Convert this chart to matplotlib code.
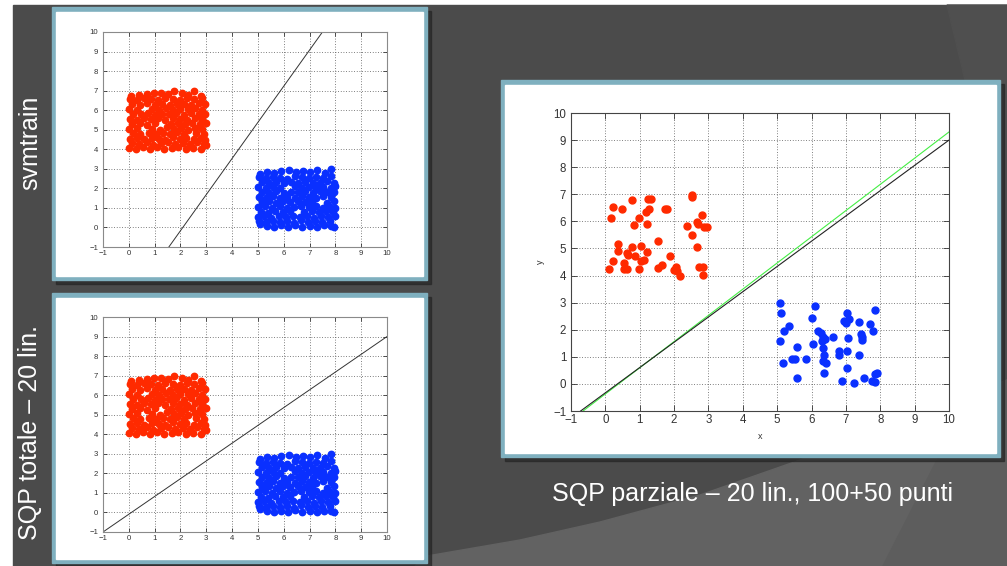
import matplotlib
matplotlib.use("Agg")
import matplotlib.pyplot as plt
from matplotlib.patches import Rectangle, Polygon

plt.rcParams['font.family'] = ['Liberation Sans', 'DejaVu Sans']

# ---------------- data ----------------
ticks = [-1, 0, 1, 2, 3, 4, 5, 6, 7, 8, 9, 10]

# dense clouds (left two plots) – hand-read approximate positions
dense_red_x = [0.02,0.28,0.55,0.83,1.1,1.38,1.66,1.92,2.2,2.5,2.78,2.98,
               0.12,0.4,0.7,0.95,1.25,1.52,1.8,2.08,2.36,2.64,2.9,
               0.03,0.3,0.58,0.9,1.15,1.42,1.7,1.98,2.22,2.52,2.8,2.97,
               0.15,0.45,0.78,1.05,1.32,1.6,1.88,2.15,2.62,2.9,
               0.02,0.3,0.9,1.2,1.48,1.75,2.02,2.3,2.56,2.84,
               0.14,0.42,0.72,1.02,1.62,1.9,2.18,2.45,2.74,2.98,
               0.03,0.3,0.58,0.86,1.14,1.42,1.7,1.98,2.26,2.55,2.85,
               0.16,0.46,0.75,1.0,1.28,1.56,1.84,2.12,2.4,2.7,2.95,
               0.02,0.3,0.88,1.16,1.45,1.72,2.0,2.28,2.56,2.84,
               0.14,0.44,0.72,1.02,1.3,1.58,1.86,2.14,2.42,2.7,2.96,
               0.04,0.3,0.58,0.86,1.14,1.42,1.7,1.98,2.26,2.54,2.82,
               0.1,0.4,0.7,0.98,1.26,1.52,1.76,2.05,2.3,2.52,2.78]
dense_red_y = [4.08,4.0,4.12,4.03,4.1,4.0,4.06,4.12,4.02,4.09,4.0,4.2,
               4.33,4.27,4.35,4.24,4.31,4.38,4.26,4.34,4.29,4.36,4.28,
               4.52,4.6,4.5,4.58,4.55,4.49,4.61,4.53,4.57,4.5,4.6,4.45,
               4.82,4.76,4.85,4.78,4.84,4.77,4.86,4.79,4.83,4.8,
               5.02,5.1,5.05,5.0,5.12,5.04,5.08,5.01,5.1,5.06,
               5.28,5.34,5.25,5.32,5.3,5.36,5.27,5.33,5.29,5.35,
               5.56,5.5,5.6,5.53,5.58,5.51,5.59,5.55,5.5,5.6,5.54,
               5.82,5.78,5.85,5.76,5.83,5.8,5.86,5.77,5.84,5.79,5.82,
               6.06,6.0,6.08,6.03,6.1,6.02,6.07,6.04,6.09,6.01,
               6.32,6.27,6.35,6.28,6.33,6.26,6.34,6.3,6.27,6.36,6.3,
               6.58,6.52,6.6,6.55,6.5,6.62,6.56,6.53,6.6,6.55,6.62,
               6.72,6.8,6.85,6.9,6.88,6.83,6.98,6.86,6.8,6.97,6.75]
dense_blue_x = [5.1,5.35,5.62,5.9,6.18,6.45,6.72,7.0,7.28,7.55,7.82,7.95,
                5.05,5.3,5.58,5.85,6.12,6.4,6.68,6.95,7.22,7.5,7.78,
                5.02,5.25,5.52,5.8,6.08,6.36,6.62,6.9,7.18,7.46,7.72,7.97,
                5.12,5.4,5.68,5.96,6.24,6.8,7.08,7.36,7.64,7.9,
                5.0,5.28,5.56,5.84,6.12,6.4,6.68,6.96,7.24,7.52,7.8,8.0,
                5.14,5.42,5.7,5.98,6.26,6.54,6.82,7.1,7.66,7.94,
                5.03,5.3,5.58,5.86,6.14,6.42,6.7,6.98,7.26,7.54,7.82,
                5.16,5.44,5.72,6.0,6.28,6.56,6.84,7.12,7.4,7.68,7.96,
                5.02,5.3,5.58,5.86,6.42,6.7,6.98,7.26,7.54,7.82,8.0,
                5.14,5.44,5.72,6.0,6.28,6.56,6.84,7.12,7.4,7.68,7.94,
                5.04,5.3,5.58,5.86,6.14,6.42,6.7,6.98,7.26,7.54,7.82,
                5.08,5.36,5.64,5.9,6.2,6.48,6.76,7.02,7.3,7.58,7.85]
dense_blue_y = [0.18,0.08,0.02,0.1,0.04,0.12,0.03,0.09,0.01,0.1,0.06,0.0,
                0.32,0.26,0.35,0.28,0.33,0.25,0.36,0.29,0.34,0.27,0.31,
                0.55,0.6,0.5,0.58,0.52,0.6,0.54,0.57,0.5,0.59,0.53,0.6,
                0.8,0.76,0.84,0.78,0.83,0.79,0.85,0.77,0.82,0.8,
                1.05,1.1,1.02,1.08,1.0,1.07,1.11,1.03,1.09,1.01,1.06,1.0,
                1.3,1.34,1.27,1.33,1.28,1.35,1.29,1.32,1.26,1.33,
                1.56,1.5,1.6,1.53,1.58,1.51,1.59,1.55,1.5,1.6,1.54,
                1.82,1.78,1.85,1.76,1.83,1.8,1.86,1.77,1.84,1.79,1.82,
                2.06,2.0,2.08,2.03,2.1,2.02,2.07,2.04,2.09,2.01,2.12,
                2.32,2.27,2.35,2.28,2.33,2.26,2.34,2.3,2.27,2.36,2.3,
                2.58,2.52,2.6,2.55,2.5,2.62,2.56,2.53,2.6,2.55,2.62,
                2.72,2.85,2.8,2.9,2.95,2.83,2.9,2.86,2.93,2.8,3.0]

# separating lines of the left plots
svm_line_x = [1.55, 7.5]
svm_line_y = [-1, 10]
sqp_tot_line_x = [-1, 10]
sqp_tot_line_y = [-1, 9]

# right plot: 50 + 50 points
red_x = [0.106,0.164,0.23,0.23,0.377,0.358,0.494,0.552,0.552,0.62,0.65,0.62,0.785,0.785,
         0.84,0.862,0.979,0.979,1.04,1.03,1.13,1.20,1.20,1.17,1.27,1.23,1.33,1.54,1.52,
         1.64,1.74,1.80,1.88,2.01,2.06,2.08,2.17,2.37,2.51,2.51,2.53,2.66,2.71,2.66,2.72,
         2.80,2.85,2.85,2.88,2.95]
red_y = [4.24,6.11,6.54,4.53,5.16,4.90,6.47,4.48,4.24,4.82,4.75,4.26,6.78,5.06,
         5.86,4.73,4.24,6.13,5.09,4.53,4.57,4.88,5.92,6.35,6.45,6.82,6.84,5.27,4.29,
         4.39,6.45,6.47,4.73,4.20,4.32,4.16,3.99,5.84,6.99,6.90,5.49,5.96,5.92,5.04,4.32,
         6.23,4.32,4.02,5.80,5.80]
blue_x = [5.08,5.10,5.08,5.18,5.21,5.34,5.44,5.52,5.57,5.57,5.83,6.00,6.05,6.10,6.20,
          6.27,6.34,6.29,6.39,6.34,6.37,6.34,6.41,6.37,6.63,6.80,6.80,6.88,6.95,6.99,
          7.04,7.09,7.05,7.04,7.02,7.24,7.39,7.43,7.46,7.38,7.54,7.70,7.78,7.85,7.75,
          7.85,7.85,7.90,7.46]
blue_y = [2.97,2.60,1.58,0.76,1.97,2.15,0.92,0.91,1.35,0.21,0.91,2.44,1.46,2.89,1.97,
          1.87,1.74,1.60,1.65,1.34,1.07,0.85,0.76,0.39,1.72,1.22,1.07,0.11,2.32,2.24,
          2.60,2.40,1.69,1.22,0.58,0.02,2.27,1.83,1.62,1.07,0.21,2.20,1.97,2.73,0.11,
          0.36,0.06,0.39,1.75]
black_line_x = [-0.72, 10]
black_line_y = [-1, 9.0]
green_line_x = [-0.65, 10]
green_line_y = [-1, 9.3]

titles = ["svmtrain", "SQP totale \u2013 20 lin.", "SQP parziale \u2013 20 lin., 100+50 punti"]

RED = '#ff2a00'
BLUE = '#0a30ff'

# ---------------- figure ----------------
W, H = 1007, 566
fig = plt.figure(figsize=(W / 100, H / 100), dpi=100)
fig.patch.set_facecolor('white')

bg = fig.add_axes([0, 0, 1, 1])
bg.set_xlim(0, W)
bg.set_ylim(H, 0)
bg.axis('off')

# slide background
bg.add_patch(Rectangle((13, 5), W - 13, H - 5, color='#4b4b4b', zorder=0))
bg.add_patch(Polygon([(947, 5), (965, 80), (975, 250), (962, 400), (937, 460),
                      (883, 566), (W, 566), (W, 5)], closed=True,
                     color='#4f4f4f', zorder=0.5))
bg.add_patch(Polygon([(415, 566), (427, 556), (520, 540), (600, 522), (700, 495),
                      (800, 460), (900, 420), (W, 380), (W, 566)], closed=True,
                     color='#626262', zorder=0.6))
bg.add_patch(Polygon([(960, 410), (937, 460), (883, 566), (W, 566), (W, 380)], closed=True,
                     color='#5d5d5d', zorder=0.7))


def panel(x0, y0, x1, y1):
    bg.add_patch(Rectangle((x0 + 4, y0 + 4), x1 - x0, y1 - y0, color='#262626',
                           alpha=0.7, zorder=1))
    bg.add_patch(Rectangle((x0, y0), x1 - x0, y1 - y0, color='#7fb0bf', zorder=2))
    bg.add_patch(Rectangle((x0 + 4, y0 + 5), x1 - x0 - 8, y1 - y0 - 9,
                           color='white', zorder=3))


panel(52, 7, 427, 280)
panel(52, 293, 427, 563)
panel(501, 80, 1000, 457)

bg.text(30, 143, titles[0], rotation=90, ha='center', va='center',
        color='white', fontsize=18)
bg.text(30, 433, titles[1], rotation=90, ha='center', va='center',
        color='white', fontsize=18)
bg.text(752, 494, titles[2], ha='center', va='center', color='white', fontsize=18)


def make_axes(px0, py0, px1, py1, small=True):
    ax = fig.add_axes([px0 / W, (H - py1) / H, (px1 - px0) / W, (py1 - py0) / H])
    ax.set_xlim(-1, 10)
    ax.set_ylim(-1, 10)
    ax.set_xticks(ticks)
    ax.set_yticks(ticks)
    fs = 5.6 if small else 8.3
    spine_c = '#8a8a8a' if small else '#444444'
    for s in ax.spines.values():
        s.set_color(spine_c)
        s.set_linewidth(0.8)
    ax.tick_params(direction='in', length=3 if small else 4, width=0.6,
                   top=True, right=True, labelsize=fs, colors='#333333')
    ax.tick_params(axis='x', pad=2.5)
    ax.tick_params(axis='y', pad=3.5)
    ax.grid(True, color='#555555', linestyle=(0, (1, 2.2)), linewidth=0.6)
    ax.set_axisbelow(True)
    ax.set_facecolor('white')
    return ax


ax1 = make_axes(103, 32, 387, 247)
ax1.plot(dense_red_x, dense_red_y, 'o', ms=4.6, color=RED, mec=RED, ls='none')
ax1.plot(dense_blue_x, dense_blue_y, 'o', ms=4.6, color=BLUE, mec=BLUE, ls='none')
ax1.plot(svm_line_x, svm_line_y, color='#333333', lw=0.7)

ax2 = make_axes(103, 317, 387, 532)
ax2.plot(dense_red_x, dense_red_y, 'o', ms=4.6, color=RED, mec=RED, ls='none')
ax2.plot(dense_blue_x, dense_blue_y, 'o', ms=4.6, color=BLUE, mec=BLUE, ls='none')
ax2.plot(sqp_tot_line_x, sqp_tot_line_y, color='#333333', lw=0.7)

ax3 = make_axes(571, 113, 949, 411, small=False)
ax3.plot(red_x, red_y, 'o', ms=5.0, color=RED, mec=RED, ls='none')
ax3.plot(blue_x, blue_y, 'o', ms=5.0, color=BLUE, mec=BLUE, ls='none')
ax3.plot(green_line_x, green_line_y, color='#44ee44', lw=0.8)
ax3.plot(black_line_x, black_line_y, color='#222222', lw=0.8)
ax3.set_xlabel('x', fontsize=6.5, color='#333333', labelpad=4)
ax3.set_ylabel('y', fontsize=6.5, color='#333333', labelpad=6)

fig.savefig('out.png', dpi=100)
